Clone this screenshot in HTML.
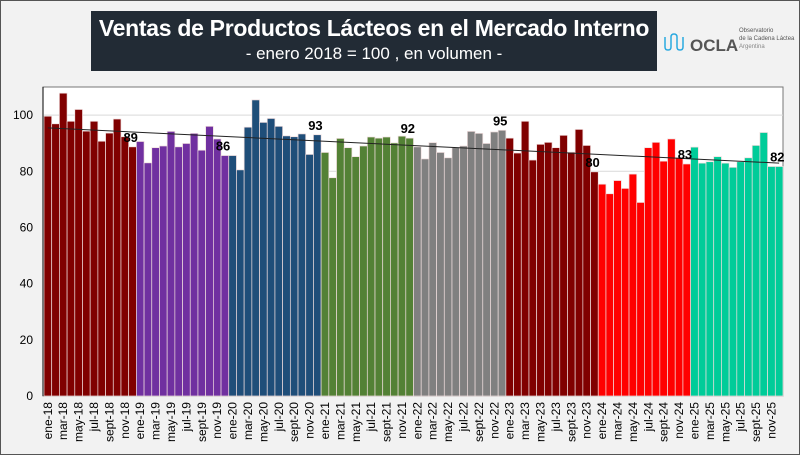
<!DOCTYPE html>
<html><head><meta charset="utf-8"><style>
body{margin:0;background:#fff}
#wrap{position:relative;width:798px;height:453px;border:1px solid #555;background:#f2f2f2;font-family:"Liberation Sans",sans-serif;overflow:hidden}
#title{position:absolute;left:90px;top:10px;width:566px;height:60px;background:#222b35;color:#fff;text-align:center}
#t1{font-size:23px;font-weight:bold;margin-top:4px;letter-spacing:-0.3px}
#t2{font-size:17px;margin-top:2px}
#logo{position:absolute;left:662px;top:18px;width:134px;height:40px}
svg{position:absolute;left:0;top:0}
</style></head><body>
<div id="wrap">
<div id="title">
<div id="t1">Ventas de Productos Lácteos en el Mercado Interno</div>
<div id="t2">- enero 2018 = 100 , en volumen -</div>
</div>
<div id="logo">
<svg width="134" height="40">
<path d="M2 18 v10 q0 3 3 3 q3 0 3-3 v-10 q0-3 3-3 q3 0 3 3 v10 q0 3 3 3 q3 0 3-3 v-10" fill="none" stroke="#29a9e0" stroke-width="1.5"/>
<text x="27" y="32" font-size="17" font-weight="bold" fill="#555" font-family="Liberation Sans,sans-serif">OCLA</text>
<text x="76" y="13" font-size="6" fill="#555" font-family="Liberation Sans,sans-serif">Observatorio</text>
<text x="76" y="21" font-size="6" fill="#555" font-family="Liberation Sans,sans-serif">de la Cadena Láctea</text>
<text x="76" y="29" font-size="6" fill="#888" font-family="Liberation Sans,sans-serif">Argentina</text>
</svg></div>
<svg id="chart" width="800" height="455"></svg>
</div>
<script>
const years=["18","19","20","21","22","23","24","25"];
const monthNames=["ene","feb","mar","abr","may","jun","jul","ago","sept","oct","nov","dic"];
const values=[
99.6,96.9,107.8,97.8,102,94.3,97.8,90.7,93.6,98.6,92.3,88.7,
90.6,83,88.4,89,94.2,88.7,89.9,93.5,87.5,96,91.5,85.6,
85.6,80.5,95.7,105.4,97.4,98.8,96,92.6,92.3,93.3,86,93,
86.7,77.7,91.7,88.4,85.2,89,92.2,91.8,92.2,90.1,92.5,91.8,
88.7,84.4,90.2,86.7,84.8,88.4,89,94.2,93.5,89.9,94,94.6,
91.8,86.5,97.8,84,89.6,90.3,88.4,92.8,86.8,94.9,89.2,79.8,
75.4,72,76.7,73.9,79,68.9,88.4,90.3,83.6,91.5,84.8,82.6,
88.6,82.9,83.4,85.2,82.9,81.4,83.4,84.8,89.2,93.8,81.7,81.7];
const yearColors=["#800000","#7030a0","#1f4e79","#538135","#808080","#800000","#ff0000","#00cc99"];
const yTicks=[0,20,40,60,80,100];
const NS="http://www.w3.org/2000/svg";
const svg=document.getElementById("chart");
const X0=43,X1=782,Y0=395,YT=86,YMAX=110;
const step=(X1-X0)/values.length;
const yS=v=>Y0-(v/YMAX)*(Y0-YT);
const xS=i=>X0+i*step;
function el(t,a){const e=document.createElementNS(NS,t);for(const k in a)e.setAttribute(k,a[k]);svg.appendChild(e);return e;}
let r=el("rect",{x:X0-1,y:YT,width:X1-X0+1,height:Y0-YT,fill:"#fff",stroke:"#777"});


yTicks.forEach(t=>{
 if(t>0){const g=el("line",{x1:X0,x2:X1,y1:yS(t),y2:yS(t),stroke:"#d9d9d9"});
 
 }
 const tx=el("text",{x:32,y:yS(t)+4,"text-anchor":"end","font-size":12,fill:"#000"});
 tx.textContent=t;
 
 
});
values.forEach((v,i)=>{
 const b=el("rect",{x:xS(i),y:yS(v),width:step,height:Y0-yS(v),fill:yearColors[Math.floor(i/12)],stroke:"#f0dede","stroke-width":0.7});
 
 
 if(i%2===0){
  const cx=xS(i)+step/2+4, ty=401;
  const t=el("text",{x:cx,y:ty,"text-anchor":"end","font-size":12,fill:"#000",transform:`rotate(-90 ${cx} ${ty})`});
  t.textContent=monthNames[i%12]+"-"+years[Math.floor(i/12)];
  
  
 }
});
const n=values.length;let sx=0,sy=0,sxy=0,sxx=0;
values.forEach((v,i)=>{sx+=i;sy+=v;sxy+=i*v;sxx+=i*i;});
const slope=(n*sxy-sx*sy)/(n*sxx-sx*sx),inter=(sy-slope*sx)/n;
const tl=el("line",{x1:xS(0)+step/2,y1:yS(inter),x2:xS(n-1)+step/2,y2:yS(inter+slope*(n-1)),stroke:"#222","stroke-width":1});


for(let y=0;y<years.length;y++){
 const i=y*12+11,v=values[i];
 const t=el("text",{x:xS(i)+2,y:yS(v)-5,"text-anchor":"middle","font-size":13,"font-weight":"bold",fill:"#000"});
 t.textContent=Math.round(v);
 
 
}
const ax=el("line",{x1:X0-1,x2:X0-1,y1:YT,y2:Y0,stroke:"#000"});


</script>
</body></html>
